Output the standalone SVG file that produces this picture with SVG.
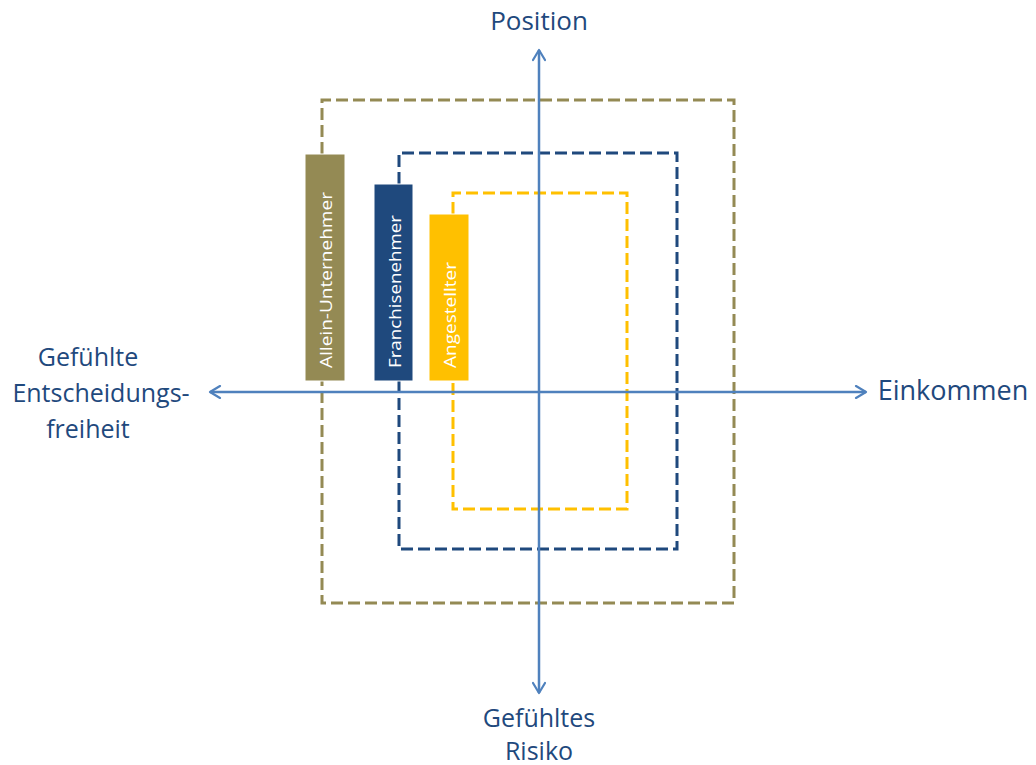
<svg xmlns="http://www.w3.org/2000/svg" width="1036" height="765" viewBox="0 0 1036 765">
  <defs>
    <marker id="arrow" viewBox="0 0 14 14" refX="12" refY="7" markerWidth="14" markerHeight="14" markerUnits="userSpaceOnUse" orient="auto">
      <polyline points="2,1 12,7 2,13" fill="none" stroke="#4F81BD" stroke-width="2.2" stroke-linecap="round" stroke-linejoin="round"/>
    </marker>
  </defs>
  <style>
    .halo { fill: none; stroke: #ffffff; stroke-width: 5; stroke-dasharray: 12 5; }
    .dash { fill: none; stroke-width: 3; stroke-dasharray: 12 5; }
    .axis { stroke: #4F81BD; stroke-width: 2.5; fill: none; }
    .lbl { font-family: "Open Sans", "Noto Sans", sans-serif; font-size: 25px; fill: #1F497D; text-anchor: middle; }
    .tag { font-family: "Open Sans", "Noto Sans", sans-serif; font-size: 17px; fill: #ffffff; text-anchor: start; }
  </style>
  <rect width="1036" height="765" fill="#ffffff"/>

  <!-- Allein-Unternehmer -->
  <g id="allein">
    <path class="halo" d="M322,154 V100 H734 V603 H322 V381"/>
    <path class="dash" stroke="#948A54" d="M322,154 V100 H734 V603 H322 V381"/>
    <rect x="305" y="154" width="40" height="227" fill="#948A54" stroke="#ffffff" stroke-width="1"/>
    <text class="tag" transform="translate(332,368) rotate(-90)" textLength="176" lengthAdjust="spacingAndGlyphs">Allein-Unternehmer</text>
  </g>

  <!-- Franchisenehmer -->
  <g id="franchise">
    <path class="halo" d="M399,184 V153 H677 V549 H399 V381"/>
    <path class="dash" stroke="#1F497D" d="M399,184 V153 H677 V549 H399 V381"/>
    <rect x="374" y="184" width="39" height="197" fill="#1F497D" stroke="#ffffff" stroke-width="1"/>
    <text class="tag" transform="translate(401,368) rotate(-90)" textLength="153" lengthAdjust="spacingAndGlyphs">Franchisenehmer</text>
  </g>

  <!-- Angestellter -->
  <g id="angestellter">
    <path class="halo" d="M453,214 V193 H627 V509 H453 V381"/>
    <path class="dash" stroke="#FFC000" d="M453,214 V193 H627 V509 H453 V381"/>
    <rect x="429" y="214" width="40" height="167" fill="#FFC000" stroke="#ffffff" stroke-width="1"/>
    <text class="tag" transform="translate(456,368) rotate(-90)" textLength="106" lengthAdjust="spacingAndGlyphs">Angestellter</text>
  </g>

  <!-- Axes -->
  <g id="axes">
    <line class="axis" x1="539" y1="392" x2="539" y2="50" marker-end="url(#arrow)"/>
    <line class="axis" x1="539" y1="392" x2="539" y2="693" marker-end="url(#arrow)"/>
    <line class="axis" x1="539" y1="392" x2="866" y2="392" marker-end="url(#arrow)"/>
    <line class="axis" x1="539" y1="392" x2="210" y2="392" marker-end="url(#arrow)"/>
  </g>

  <!-- Axis labels -->
  <g id="labels">
    <text class="lbl" x="539" y="30" style="font-size:26px">Position</text>
    <text class="lbl" x="953" y="400" style="font-size:27px">Einkommen</text>
    <text class="lbl" x="88" y="366">Gefühlte</text>
    <text class="lbl" x="101" y="402">Entscheidungs-</text>
    <text class="lbl" x="88" y="438">freiheit</text>
    <text class="lbl" x="539" y="727">Gefühltes</text>
    <text class="lbl" x="539" y="760">Risiko</text>
  </g>
</svg>
